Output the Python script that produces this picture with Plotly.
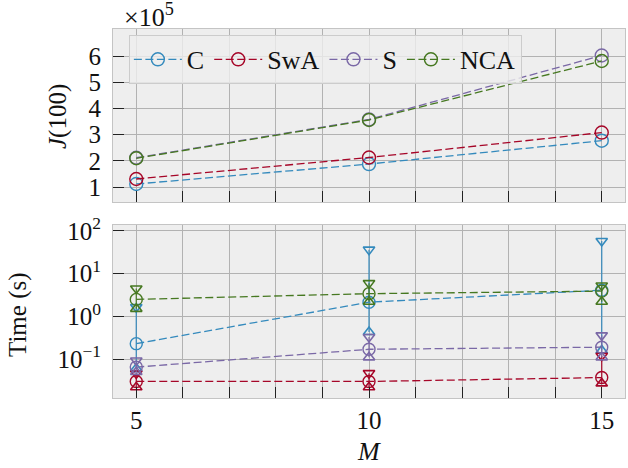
import plotly.graph_objects as go

# ---------------- data ----------------
M = [5, 10, 15]
series = ["C", "SwA", "S", "NCA"]
colors = ["#348ABD", "#A60628", "#7A68A6", "#467821"]

# J(100) in units of 1e5
J_C = [1.12, 1.88, 2.77]
J_SwA = [1.31, 2.13, 3.08]
J_S = [2.12, 3.58, 6.02]
J_NCA = [2.10, 3.56, 5.81]

# Time (s): mean, min, max
T_C_mean = [0.23, 2.15, 4.1]
T_C_min = [0.06, 0.43, 0.16]
T_C_max = [1.65, 36.5, 58.0]

T_SwA_mean = [0.030, 0.030, 0.037]
T_SwA_min = [0.022, 0.022, 0.027]
T_SwA_max = [0.046, 0.047, 0.12]

T_S_mean = [0.065, 0.17, 0.19]
T_S_min = [0.05, 0.11, 0.11]
T_S_max = [0.093, 0.33, 0.36]

T_NCA_mean = [2.5, 3.4, 3.9]
T_NCA_min = [1.5, 2.2, 2.2]
T_NCA_max = [4.5, 6.0, 5.3]

J_all = [J_C, J_SwA, J_S, J_NCA]
T_mean = [T_C_mean, T_SwA_mean, T_S_mean, T_NCA_mean]
T_min = [T_C_min, T_SwA_min, T_S_min, T_NCA_min]
T_max = [T_C_max, T_SwA_max, T_S_max, T_NCA_max]

FONT = "'Liberation Serif', 'DejaVu Serif', serif"
DASH = "8px,3.5px"

fig = go.Figure()

for name, col, J, tm, tmin, tmax in zip(series, colors, J_all, T_mean, T_min, T_max):
    # top: J(100)
    fig.add_trace(go.Scatter(
        x=M, y=J, mode="lines+markers", name=name, legendgroup=name,
        line=dict(color=col, width=1.3, dash=DASH),
        marker=dict(symbol="circle-open", size=13, color=col, line=dict(width=1.4)),
        xaxis="x", yaxis="y",
    ))
    # bottom: error bars
    ex, ey = [], []
    for m, lo, hi in zip(M, tmin, tmax):
        ex += [m, m, None]
        ey += [lo, hi, None]
    fig.add_trace(go.Scatter(
        x=ex, y=ey, mode="lines", showlegend=False, legendgroup=name,
        line=dict(color=col, width=1.3), opacity=0.9,
        xaxis="x2", yaxis="y2", hoverinfo="skip",
    ))
    fig.add_trace(go.Scatter(
        x=M, y=tmin, mode="markers", showlegend=False, legendgroup=name,
        marker=dict(symbol="triangle-up-open", size=10, color=col, line=dict(width=1.6)),
        xaxis="x2", yaxis="y2",
    ))
    fig.add_trace(go.Scatter(
        x=M, y=tmax, mode="markers", showlegend=False, legendgroup=name,
        marker=dict(symbol="triangle-down-open", size=10, color=col, line=dict(width=1.6)),
        xaxis="x2", yaxis="y2",
    ))
    fig.add_trace(go.Scatter(
        x=M, y=tm, mode="lines+markers", showlegend=False, legendgroup=name,
        line=dict(color=col, width=1.3, dash=DASH),
        marker=dict(symbol="circle-open", size=12, color=col, line=dict(width=1.4)),
        xaxis="x2", yaxis="y2",
    ))

GRID = "#b2b2b2"
EDGE = "#c4c4c4"
TICKC = "#222222"

common_x = dict(
    range=[4.5, 15.5], tick0=0, dtick=5, ticks="inside", ticklen=11, tickwidth=1,
    tickcolor=TICKC, showgrid=True, gridcolor=GRID, gridwidth=1,
    showline=True, mirror=True, linecolor=EDGE, linewidth=1, zeroline=False,
    automargin=False,
    minor=dict(dtick=1, tick0=0, ticks="inside", ticklen=11, tickcolor=TICKC,
               showgrid=True, gridcolor=GRID, gridwidth=1),
    tickfont=dict(family=FONT, size=25, color="#111"),
)

common_y = dict(
    ticks="inside", ticklen=11, tickcolor=TICKC,
    showgrid=True, gridcolor=GRID, showline=True, mirror=True, linecolor=EDGE,
    zeroline=False, tickfont=dict(family=FONT, size=25, color="#111"),
    ticklabelstandoff=6, automargin=False,
)

fig.update_layout(
    width=628, height=468,
    margin=dict(l=113, r=3, t=29, b=70, autoexpand=False),
    paper_bgcolor="white", plot_bgcolor="#eeeeee",
    font=dict(family=FONT, color="#111"),
    showlegend=True,
    legend=dict(
        orientation="h", x=0.031, y=0.984, xanchor="left", yanchor="top",
        bgcolor="rgba(238,238,238,0.8)", bordercolor="#cccccc", borderwidth=1,
        font=dict(family=FONT, size=26, color="#111"), itemwidth=48,
    ),
    xaxis=dict(common_x, domain=[0, 1], anchor="y", showticklabels=False, matches="x2"),
    xaxis2=dict(common_x, domain=[0, 1], anchor="y2", showticklabels=True),
    yaxis=dict(common_y, domain=[0.531, 1], anchor="x", range=[0.43, 7.03],
               tickvals=[1, 2, 3, 4, 5, 6]),
    yaxis2=dict(common_y, domain=[0, 0.469], anchor="x2", type="log", range=[-1.91, 2.14],
                tickvals=[0.1, 1, 10, 100],
                ticktext=["10<sup>−1</sup>", "10<sup>0</sup>", "10<sup>1</sup>", "10<sup>2</sup>"]),
)

W, H = 512.0, 369.0
def px(x):
    return (x - 113) / W
def py(y):
    return (398 - y) / H

ann = [
    dict(text="×10<sup>5</sup>", x=px(122), y=py(34), xanchor="left", yanchor="bottom",
         font=dict(size=26)),
    dict(text="<i>J</i>(100)", x=px(58), y=py(117), xanchor="center", yanchor="middle",
         textangle=-90, font=dict(size=25)),
    dict(text="Time (s)", x=px(18), y=py(315), xanchor="center", yanchor="middle",
         textangle=-90, font=dict(size=25)),
    dict(text="<i>M</i>", x=px(369), y=py(452), xanchor="center", yanchor="middle",
         font=dict(size=26)),
]
for a in ann:
    a.update(xref="paper", yref="paper", showarrow=False)
    a["font"].update(family=FONT, color="#111")
fig.update_layout(annotations=ann)

fig.write_html("out.html", post_script="document.body.style.margin='0';",
               config={"displayModeBar": False})
